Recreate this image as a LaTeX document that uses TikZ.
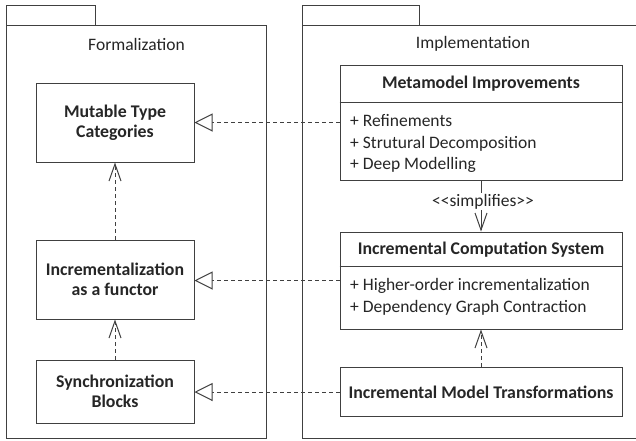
\documentclass[tikz,border=0pt]{standalone}
\usepackage{fontspec}
\setmainfont{Carlito}
\usetikzlibrary{arrows.meta}
\definecolor{ln}{HTML}{404040}
\definecolor{tx}{HTML}{262626}
\tikzset{
  pkg/.style={draw=ln, line width=1pt},
  cls/.style={draw=ln, line width=1pt, fill=white, inner sep=0pt},
  bold/.style={font=\fontsize{17.8}{20}\selectfont\bfseries, text=tx, align=center},
  plain/.style={font=\fontsize{17.5}{21}\selectfont, text=tx},
  items/.style={font=\fontsize{17.5}{21.5}\selectfont, text=tx, align=left, anchor=west, inner sep=0pt},
  real/.style={draw=ln, line width=1pt, dash pattern=on 4pt off 3pt,
    -{Triangle[open, length=18pt, width=18pt, fill=white, line width=1pt]}},
  dep/.style={draw=ln, line width=1pt, dash pattern=on 4pt off 3pt,
    -{Straight Barb[length=17pt, width=12pt, line width=1pt]}},
  simp/.style={draw=ln, line width=1pt,
    -{Straight Barb[length=17pt, width=12pt, line width=1pt]}}
}
\begin{document}
\begin{tikzpicture}[x=1pt, y=-1pt]
\useasboundingbox (0,0) rectangle (636,440);
\clip (0,0) rectangle (636,440);
\fill[white] (0,0) rectangle (636,440);
% packages
\draw[pkg] (6,25) rectangle (95,5);
\draw[pkg] (6,25) rectangle (266,438);
\draw[pkg] (302,25) rectangle (419,5);
\draw[pkg] (302,25) rectangle (700,438);
\node[plain] (formal) at (136.5,44) {Formalization};
\node[plain] (impl) at (473,44) {Implementation};
% left classes
\node[cls, minimum width=158pt, minimum height=79pt] (mut) at (115,122.5) {};
\node[bold] (mutt) at (mut.center) {Mutable Type\\Categories};
\node[cls, minimum width=158pt, minimum height=79pt] (fun) at (115,279.5) {};
\node[bold] (funt) at (fun.center) {Incrementalization\\as a functor};
\node[cls, minimum width=158pt, minimum height=63pt] (syn) at (115,391.5) {};
\node[bold] (synt) at (syn.center) {Synchronization\\Blocks};
% right classes
\node[cls, minimum width=282pt, minimum height=115pt] (mm) at (481,122.5) {};
\node[bold] (mmt) at (481,83.5) {Metamodel Improvements};
\draw[draw=ln, line width=1pt] (mm.west |- 0,102) coordinate (mma) -- (mm.east |- 0,102) coordinate (mmb);
\node[items] (mmi) at (350,143.5) {+ Refinements\\+ Strutural Decomposition\\+ Deep Modelling};
\node[cls, minimum width=282pt, minimum height=97pt] (ics) at (481,280.5) {};
\node[bold] (icst) at (481,249.5) {Incremental Computation System};
\draw[draw=ln, line width=1pt] (ics.west |- 0,266) coordinate (icsa) -- (ics.east |- 0,266) coordinate (icsb);
\node[items] (icsi) at (350,297) {+ Higher-order incrementalization\\+ Dependency Graph Contraction};
\node[cls, minimum width=282pt, minimum height=49.5pt] (imt) at (481,392) {};
\node[bold] (imtt) at (imt.center) {Incremental Model Transformations};
% connectors
\draw[real] (mm.west) -- (mm.west -| mut.east);
\draw[real] (ics.west) -- (ics.west -| fun.east);
\draw[real] (imt.west) -- (imt.west -| syn.east);
\draw[dep] (fun.north) -- (mut.south);
\draw[dep] (syn.north) -- (fun.south);
\draw[dep] (imt.north) -- (ics.south);
\draw[simp] (mm.south) -- (ics.north);
\node[plain, fill=white, inner sep=1pt] (simpl) at (483,201.5) {{<}{<}simplifies{>}{>}};
\end{tikzpicture}
\end{document}
